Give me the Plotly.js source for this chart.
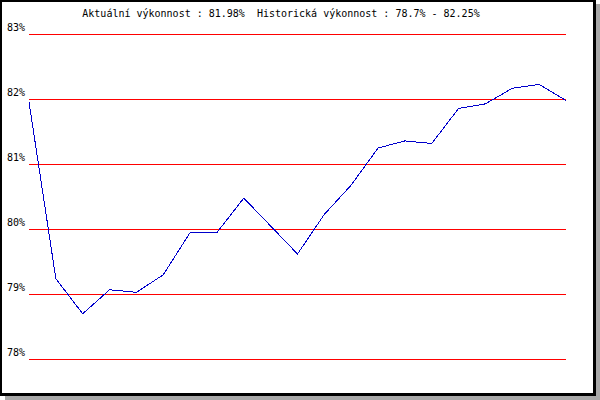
<!DOCTYPE html>
<html>
<head>
<meta charset="utf-8">
<script src="https://cdn.plot.ly/plotly-3.0.1.min.js"></script>
<style>
  html, body { margin: 0; padding: 0; background: #ffffff; }
  #wrap { position: relative; width: 600px; height: 400px; overflow: hidden; background: #ffffff; }
  #shadow { position: absolute; left: 5px; top: 4px; width: 595px; height: 396px; background: #a8a8a8; }
  #frame { position: absolute; left: 0; top: 0; width: 596px; height: 396px; box-sizing: border-box;
           background: #ffffff; border-left: 2px solid #000; border-top: 2px solid #000;
           border-right: 3px solid #000; border-bottom: 3px solid #000; }
  #chart { position: absolute; left: 0; top: 0; width: 600px; height: 400px; }
  #chart .shapelayer path, #chart .scatterlayer path { shape-rendering: crispEdges; }
</style>
</head>
<body>
<div id="wrap">
  <div id="shadow"></div>
  <div id="frame"></div>
  <div id="chart"></div>
</div>
<script>
// Data
const points = [0,1,2,3,4,5,6,7,8,9,10,11,12,13,14,15,16,17,18,19,20];
const performance = [81.96, 79.24, 78.70, 79.07, 79.03, 79.30, 79.95, 79.95, 80.48, 80.05,
                     79.62, 80.23, 80.68, 81.25, 81.36, 81.32, 81.86, 81.93, 82.17, 82.23, 81.98];
const gridValues = [78, 79, 80, 81, 82, 83];
const gridLabels = ["78%", "79%", "80%", "81%", "82%", "83%"];
const titleText = "Aktuální výkonnost : 81.98%  Historická výkonnost : 78.7% - 82.25%";

const font = "DejaVu Sans Mono, Liberation Mono, monospace";

const shapes = gridValues.map(v => ({
  type: "line", xref: "paper", yref: "y", x0: 0, x1: 1, y0: v, y1: v,
  line: { color: "#ff0000", width: 1 }, layer: "below"
}));

const annotations = gridValues.map((v, i) => ({
  xref: "paper", yref: "y", x: 0, y: v, text: gridLabels[i],
  showarrow: false, xanchor: "right", yanchor: "bottom", xshift: -2, yshift: -1,
  font: { family: font, size: 10, color: "#000000" }
}));

const trace = {
  x: points, y: performance, type: "scatter", mode: "lines",
  line: { color: "#0000cc", width: 1 }, hoverinfo: "skip"
};

const layout = {
  width: 600, height: 400, autosize: false,
  margin: { l: 29, r: 34, t: 33, b: 40, pad: 0 },
  paper_bgcolor: "rgba(0,0,0,0)", plot_bgcolor: "rgba(0,0,0,0)",
  showlegend: false,
  title: {
    text: titleText, xref: "container", yref: "container",
    x: 281 / 600, y: 1 - 13 / 400, xanchor: "center", yanchor: "middle",
    font: { family: font, size: 10, color: "#000000" }
  },
  xaxis: { range: [0, 20], showgrid: false, zeroline: false, showline: false,
           showticklabels: false, ticks: "", fixedrange: true },
  yaxis: { range: [77.989, 83.02], showgrid: false, zeroline: false, showline: false,
           showticklabels: false, ticks: "", fixedrange: true },
  shapes: shapes,
  annotations: annotations
};

Plotly.newPlot("chart", [trace], layout, { staticPlot: true, displayModeBar: false });
</script>
</body>
</html>
